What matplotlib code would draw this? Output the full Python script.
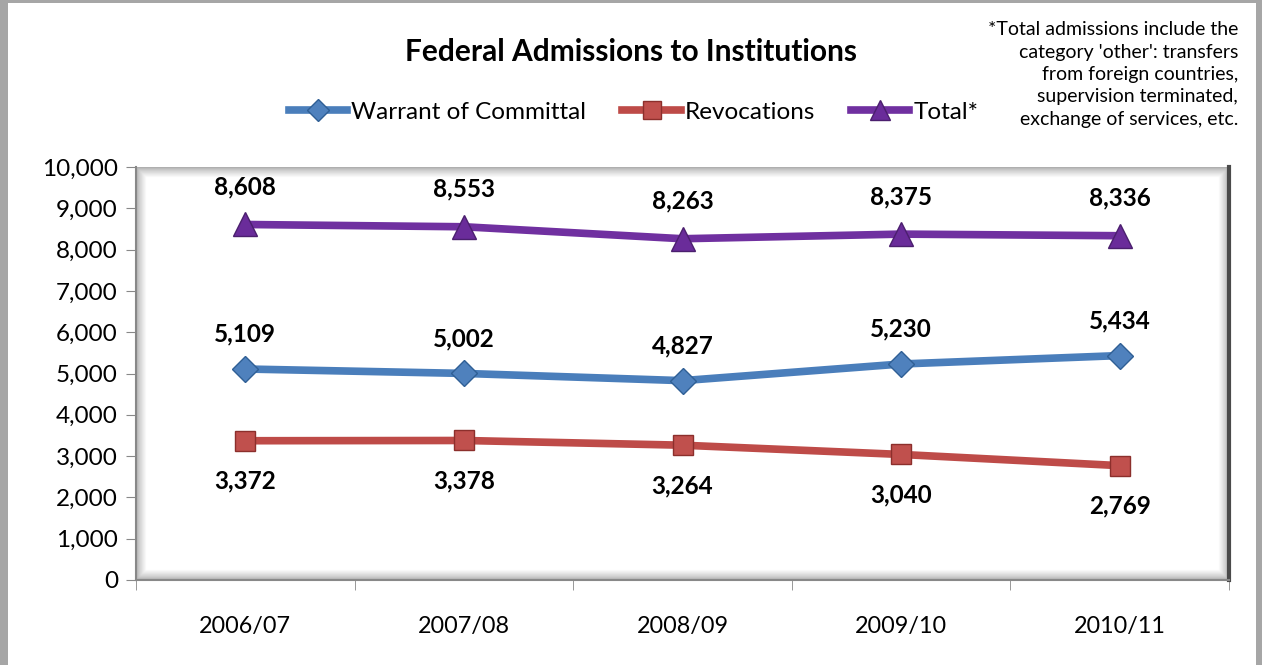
import numpy as np
import matplotlib.pyplot as plt
from matplotlib.patches import Rectangle
from matplotlib.ticker import FuncFormatter

plt.rcParams['font.family'] = ['Lato', 'DejaVu Sans']

# data
years = ['2006/07', '2007/08', '2008/09', '2009/10', '2010/11']
warrant = [5109, 5002, 4827, 5230, 5434]
revocations = [3372, 3378, 3264, 3040, 2769]
total = [8608, 8553, 8263, 8375, 8336]

blue = '#4A7EBB'
red = '#BE4B48'
purple = '#7030A0'

W, H = 1262, 665
fig = plt.figure(figsize=(W / 100, H / 100), dpi=100)
ax_l, ax_b, ax_w, ax_h = 136, 85, 1093, 413  # pixels
ax = fig.add_axes([ax_l / W, ax_b / H, ax_w / W, ax_h / H])

x = np.arange(len(years))

ax.plot(x, total, color=purple, lw=5.5, marker='^', ms=17,
        mfc='#6A2C9A', mec='#4B1F6E', mew=1, label='Total*', zorder=3)
ax.plot(x, warrant, color=blue, lw=5.5, marker='D', ms=13,
        mfc='#4F81BD', mec='#2F5F95', mew=1, label='Warrant of Committal', zorder=3)
ax.plot(x, revocations, color=red, lw=5.5, marker='s', ms=15,
        mfc='#C0504D', mec='#8C2F2C', mew=1, label='Revocations', zorder=3)

for xi, v in zip(x, total):
    ax.annotate(f'{v:,}', (xi, v), xytext=(0, 27), textcoords='offset points',
                ha='center', va='center', fontsize=17.5, fontweight='bold')
for xi, v in zip(x, warrant):
    ax.annotate(f'{v:,}', (xi, v), xytext=(0, 25), textcoords='offset points',
                ha='center', va='center', fontsize=17.5, fontweight='bold')
for xi, v in zip(x, revocations):
    ax.annotate(f'{v:,}', (xi, v), xytext=(0, -29), textcoords='offset points',
                ha='center', va='center', fontsize=17.5, fontweight='bold')

ax.set_xlim(-0.5, 4.5)
ax.set_ylim(0, 10000)
ax.set_yticks(np.arange(0, 10001, 1000))
ax.yaxis.set_major_formatter(FuncFormatter(lambda v, p: f'{int(v):,}'))
ax.set_xticks(x)
ax.set_xticklabels(years)
ax.set_xticks(np.arange(-0.5, 4.6, 1), minor=True)
ax.tick_params(axis='x', which='major', length=0, pad=26, labelsize=16.8)
ax.tick_params(axis='x', which='minor', length=7, color='#888888')
ax.tick_params(axis='y', length=7, color='#888888', labelsize=17.5, pad=6)

for s in ['top', 'right']:
    ax.spines[s].set_visible(False)
for s in ['left', 'bottom']:
    ax.spines[s].set_color('#888888')
    ax.spines[s].set_linewidth(1.5)

# beveled inner frame (soft gradient)
for i in range(12):
    g = 0.62 + 0.38 * (i / 11) ** 0.7
    dx, dy = i / ax_w, i / ax_h
    ax.add_patch(Rectangle((dx, dy), 1 - 2 * dx, 1 - 2 * dy, transform=ax.transAxes,
                           fill=False, ec=(g, g, g), lw=1.2, zorder=0))
ax.plot([1, 1], [0, 1], transform=ax.transAxes, color='#4a4a4a', lw=3, clip_on=False)

fig.text(0.5, 0.922, 'Federal Admissions to Institutions', ha='center', va='center',
         fontsize=21.5, fontweight='bold')

handles, labels = ax.get_legend_handles_labels()
order = [1, 2, 0]
fig.legend([handles[i] for i in order], [labels[i] for i in order],
           loc='center', bbox_to_anchor=(0.502, 0.831), ncol=3, frameon=False,
           fontsize=17.5, handlelength=2.4, handletextpad=0.15, columnspacing=1.5,
           markerscale=0.85)

fig.text(0.981, 0.968, "*Total admissions include the\ncategory 'other': transfers\n"
         "from foreign countries,\nsupervision terminated,\nexchange of services, etc.",
         ha='right', va='top', fontsize=14, linespacing=1.38)

# outer chart border
fig.patches.append(Rectangle((0, 0), 8 / W, 1, transform=fig.transFigure,
                             fc='#a6a6a6', ec='none'))
fig.patches.append(Rectangle((1 - 6 / W, 0), 6 / W, 1, transform=fig.transFigure,
                             fc='#a6a6a6', ec='none'))
fig.patches.append(Rectangle((0, 1 - 3 / H), 1, 3 / H, transform=fig.transFigure,
                             fc='#a6a6a6', ec='none'))

fig.savefig('out.png', dpi=100)
